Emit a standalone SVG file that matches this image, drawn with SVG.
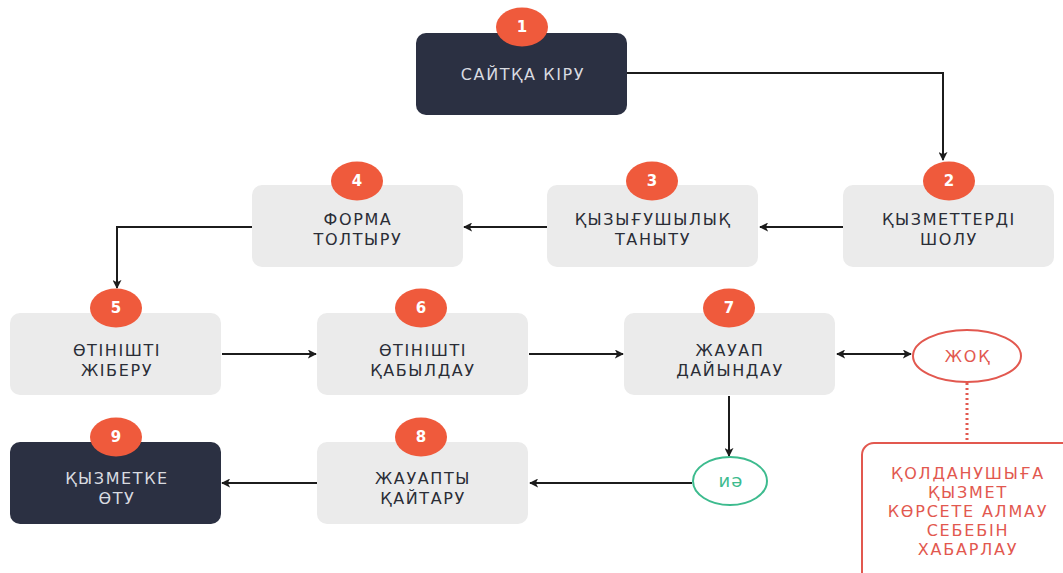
<svg xmlns="http://www.w3.org/2000/svg" width="1063" height="573" viewBox="0 0 1063 573">
  <defs>
    <marker id="arrow" viewBox="0 0 10 10" refX="9" refY="5" markerWidth="9" markerHeight="9" markerUnits="userSpaceOnUse" orient="auto-start-reverse">
      <path d="M0,0 L10,5 L0,10 L2.5,5 z" fill="#1c1c1c"/>
    </marker>
    <style>
      .box { fill: #ebebeb; }
      .dark { fill: #2b3042; }
      .badge { fill: #ef5a3c; }
      .num { font-family: "DejaVu Sans", sans-serif; font-weight: bold; font-size: 15px; fill: #ffffff; text-anchor: middle; }
      .lbl { font-family: "DejaVu Sans", sans-serif; font-size: 16px; fill: #2a2d36; text-anchor: middle; letter-spacing: 1.6px; }
      .lbl-light { font-family: "DejaVu Sans", sans-serif; font-size: 16px; fill: #d9dbe0; text-anchor: middle; letter-spacing: 1.6px; }
      .red { font-family: "DejaVu Sans", sans-serif; font-size: 16px; fill: #e2584f; text-anchor: middle; letter-spacing: 1.8px; }
      .green { font-family: "DejaVu Sans", sans-serif; font-size: 18px; fill: #3dbb8e; text-anchor: middle; letter-spacing: 1px; }
      .conn { fill: none; stroke: #1c1c1c; stroke-width: 2; }
    </style>
  </defs>

  <rect width="1063" height="573" fill="#ffffff"/>

  <!-- connectors -->
  <g id="connectors">
    <path class="conn" d="M627,73 H943 V160" marker-end="url(#arrow)"/>
    <path class="conn" d="M843,227 H760" marker-end="url(#arrow)"/>
    <path class="conn" d="M547,227 H464" marker-end="url(#arrow)"/>
    <path class="conn" d="M252,227 H117 V288" marker-end="url(#arrow)"/>
    <path class="conn" d="M222,354 H316" marker-end="url(#arrow)"/>
    <path class="conn" d="M529,354 H623" marker-end="url(#arrow)"/>
    <path class="conn" d="M837,354 H911" marker-start="url(#arrow)" marker-end="url(#arrow)"/>
    <path d="M967,383 V440" fill="none" stroke="#e2584f" stroke-width="3" stroke-dasharray="2,3"/>
    <path class="conn" d="M729,396 V456" marker-end="url(#arrow)"/>
    <path class="conn" d="M692,483 H530" marker-end="url(#arrow)"/>
    <path class="conn" d="M317,483 H222" marker-end="url(#arrow)"/>
  </g>

  <!-- step 1 -->
  <g id="node1">
    <rect class="dark" x="416" y="33" width="211" height="82" rx="10"/>
    <text class="lbl-light" x="523" y="80">САЙТҚА КІРУ</text>
    <ellipse class="badge" cx="522" cy="27" rx="26" ry="19.5"/>
    <text class="num" x="522" y="32">1</text>
  </g>

  <!-- step 2 -->
  <g id="node2">
    <rect class="box" x="843" y="185" width="211" height="82" rx="10"/>
    <text class="lbl" x="949" y="225">ҚЫЗМЕТТЕРДІ</text>
    <text class="lbl" x="949" y="245">ШОЛУ</text>
    <ellipse class="badge" cx="949" cy="181" rx="26" ry="19.5"/>
    <text class="num" x="949" y="186">2</text>
  </g>

  <!-- step 3 -->
  <g id="node3">
    <rect class="box" x="547" y="185" width="211" height="82" rx="10"/>
    <text class="lbl" x="653" y="225">ҚЫЗЫҒУШЫЛЫҚ</text>
    <text class="lbl" x="653" y="245">ТАНЫТУ</text>
    <ellipse class="badge" cx="652" cy="181" rx="26" ry="19.5"/>
    <text class="num" x="652" y="186">3</text>
  </g>

  <!-- step 4 -->
  <g id="node4">
    <rect class="box" x="252" y="185" width="211" height="82" rx="10"/>
    <text class="lbl" x="358" y="225">ФОРМА</text>
    <text class="lbl" x="358" y="245">ТОЛТЫРУ</text>
    <ellipse class="badge" cx="357" cy="181" rx="26" ry="19.5"/>
    <text class="num" x="357" y="186">4</text>
  </g>

  <!-- step 5 -->
  <g id="node5">
    <rect class="box" x="10" y="313" width="211" height="82" rx="10"/>
    <text class="lbl" x="117" y="356">ӨТІНІШТІ</text>
    <text class="lbl" x="117" y="376">ЖІБЕРУ</text>
    <ellipse class="badge" cx="116" cy="308" rx="26" ry="19.5"/>
    <text class="num" x="116" y="313">5</text>
  </g>

  <!-- step 6 -->
  <g id="node6">
    <rect class="box" x="317" y="313" width="211" height="82" rx="10"/>
    <text class="lbl" x="423" y="356">ӨТІНІШТІ</text>
    <text class="lbl" x="423" y="376">ҚАБЫЛДАУ</text>
    <ellipse class="badge" cx="421" cy="308" rx="26" ry="19.5"/>
    <text class="num" x="421" y="313">6</text>
  </g>

  <!-- step 7 -->
  <g id="node7">
    <rect class="box" x="624" y="313" width="211" height="82" rx="10"/>
    <text class="lbl" x="730" y="356">ЖАУАП</text>
    <text class="lbl" x="730" y="376">ДАЙЫНДАУ</text>
    <ellipse class="badge" cx="729" cy="308" rx="26" ry="19.5"/>
    <text class="num" x="729" y="313">7</text>
  </g>

  <!-- negative branch -->
  <g id="no">
    <ellipse cx="967" cy="356" rx="54" ry="26" fill="#ffffff" stroke="#e2584f" stroke-width="2"/>
    <text class="red" x="968" y="362">ЖОҚ</text>
  </g>

  <g id="notify">
    <rect x="862" y="443" width="215" height="150" rx="12" fill="#ffffff" stroke="#e2584f" stroke-width="2"/>
    <text class="red" x="968" y="479">ҚОЛДАНУШЫҒА</text>
    <text class="red" x="968" y="498">ҚЫЗМЕТ</text>
    <text class="red" x="968" y="517">КӨРСЕТЕ АЛМАУ</text>
    <text class="red" x="968" y="536">СЕБЕБІН</text>
    <text class="red" x="968" y="555">ХАБАРЛАУ</text>
  </g>

  <!-- positive branch -->
  <g id="yes">
    <ellipse cx="730" cy="481" rx="37" ry="24" fill="#ffffff" stroke="#3dbb8e" stroke-width="2"/>
    <text class="green" x="731" y="487">иә</text>
  </g>

  <!-- step 8 -->
  <g id="node8">
    <rect class="box" x="317" y="442" width="211" height="82" rx="10"/>
    <text class="lbl" x="423" y="484">ЖАУАПТЫ</text>
    <text class="lbl" x="423" y="504">ҚАЙТАРУ</text>
    <ellipse class="badge" cx="421" cy="437" rx="26" ry="19.5"/>
    <text class="num" x="421" y="442">8</text>
  </g>

  <!-- step 9 -->
  <g id="node9">
    <rect class="dark" x="10" y="442" width="211" height="82" rx="10"/>
    <text class="lbl-light" x="117" y="484">ҚЫЗМЕТКЕ</text>
    <text class="lbl-light" x="117" y="504">ӨТУ</text>
    <ellipse class="badge" cx="116" cy="437" rx="26" ry="19.5"/>
    <text class="num" x="116" y="442">9</text>
  </g>
</svg>
